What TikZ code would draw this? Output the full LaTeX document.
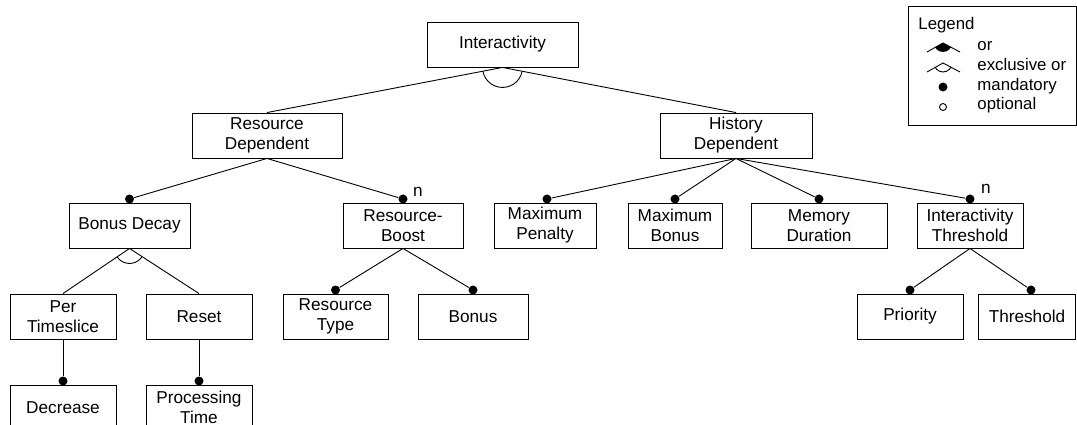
\documentclass[tikz,border=0pt]{standalone}
\usepackage{fontspec}
\setmainfont{Liberation Sans}
\begin{document}
\begin{tikzpicture}[x=1pt,y=-1pt,
  line width=0.9pt,
  feat/.style={draw, line width=0.9pt, align=center, inner sep=0pt,
    minimum height=45pt, font=\fontsize{17.2}{20}\selectfont},
  mand/.style={circle, fill=black, draw=none, inner sep=0pt, minimum size=9pt},
  opt/.style={circle, draw=black, fill=white, line width=0.9pt, inner sep=0pt, minimum size=7pt},
  card/.style={inner sep=0pt, font=\fontsize{17.2}{20}\selectfont},
  legtext/.style={anchor=base west, inner sep=0pt, font=\fontsize{16.8}{20}\selectfont}]
\useasboundingbox (0,0) rectangle (1077,425);
\clip (0,0) rectangle (1077,425);

% feature boxes
\node[feat, minimum width=151pt] (int) at (502.5,44.5) {Interactivity};
\node[feat, minimum width=150pt] (rd) at (267,135.5) {Resource\\Dependent};
\node[feat, minimum width=152pt] (hd) at (736,135.5) {History\\Dependent};

\node[feat, minimum width=121pt] (bd) at (129.5,225.5) {Bonus Decay};
\node[feat, minimum width=120pt] (rb) at (403,225.5) {Resource-\\Boost};
\node[feat, minimum width=102pt] (mp) at (545,225.5) {Maximum\\Penalty};
\node[feat, minimum width=94pt]  (mb) at (675,225.5) {Maximum\\Bonus};
\node[feat, minimum width=136pt] (md) at (819,225.5) {Memory\\Duration};
\node[feat, minimum width=106pt] (it) at (970,225.5) {Interactivity\\Threshold};

\node[feat, minimum width=106pt] (pt) at (63,316.5) {Per\\Timeslice};
\node[feat, minimum width=106pt] (rs) at (199,316.5) {Reset};
\node[feat, minimum width=105pt] (rt) at (335.5,316.5) {Resource\\Type};
\node[feat, minimum width=110pt] (bo) at (473,316.5) {Bonus};
\node[feat, minimum width=106pt] (pr) at (910,316.5) {Priority};
\node[feat, minimum width=97pt]  (th) at (1027,316.5) {Threshold};

\node[feat, minimum width=106pt] (de) at (63,407.5) {Decrease};
\node[feat, minimum width=106pt] (pti) at (199,407.5) {Processing\\Time};

% mandatory markers
\node[mand] (m-bd) at (129.5,199) {};
\node[mand] (m-rb) at (403,199) {};
\node[mand] (m-mp) at (547,199) {};
\node[mand] (m-mb) at (675,199) {};
\node[mand] (m-md) at (819,199) {};
\node[mand] (m-it) at (970,199) {};
\node[mand] (m-rt) at (335.5,290) {};
\node[mand] (m-bo) at (473,290) {};
\node[mand] (m-pr) at (910,290) {};
\node[mand] (m-th) at (1031,290) {};
\node[mand] (m-de) at (63,381) {};
\node[mand] (m-pti) at (199,381) {};

% cardinality labels
\node[card] (n1) at (418,192) {n};
\node[card] (n2) at (986,189) {n};

% connectors
\draw (int.south) -- (rd.north);
\draw (int.south) -- (hd.north);
\draw (rd.south) -- (m-bd);
\draw (rd.south) -- (m-rb);
\draw (hd.south) -- (m-mp);
\draw (hd.south) -- (m-mb);
\draw (hd.south) -- (m-md);
\draw (hd.south) -- (m-it);
\draw (bd.south) -- (pt.north);
\draw (bd.south) -- (rs.north);
\draw (rb.south) -- (m-rt);
\draw (rb.south) -- (m-bo);
\draw (it.south) -- (m-pr);
\draw (it.south) -- (m-th);
\draw (pt.south) -- (m-de);
\draw (rs.south) -- (m-pti);

% exclusive-or arcs
\begin{scope}
  \clip (int.south) -- (rd.north) -- (hd.north) -- cycle;
  \draw (int.south) circle (20pt);
\end{scope}
\begin{scope}
  \clip (bd.south) -- (pt.north) -- (rs.north) -- cycle;
  \draw (bd.south) circle (15pt);
\end{scope}

% legend
\node[draw, line width=0.9pt, minimum width=168pt, minimum height=119pt, inner sep=0pt] (leg) at (992,65.5) {};
\node[legtext] (leg-title) at (918,30) {Legend};
\node[legtext] (leg-or) at (977,51) {or};
\node[legtext] (leg-xor) at (977,71) {exclusive or};
\node[legtext] (leg-mand) at (977,91) {mandatory};
\node[legtext] (leg-opt) at (977,110) {optional};

\coordinate (or-a) at (943,43);
\coordinate (or-l) at (927,52);
\coordinate (or-r) at (960,52);
\begin{scope}
  \clip (or-a) -- (911,61) -- (977,61) -- cycle;
  \fill (or-a) circle (9pt);
\end{scope}
\draw (or-l) -- (or-a) -- (or-r);

\coordinate (xor-a) at (943,63);
\coordinate (xor-l) at (927,72);
\coordinate (xor-r) at (960,72);
\begin{scope}
  \clip (xor-a) -- (911,81) -- (977,81) -- cycle;
  \draw (xor-a) circle (9pt);
\end{scope}
\draw (xor-l) -- (xor-a) -- (xor-r);

\node[mand] (leg-dot) at (943,87) {};
\node[opt] (leg-circ) at (943,107) {};
\end{tikzpicture}
\end{document}
